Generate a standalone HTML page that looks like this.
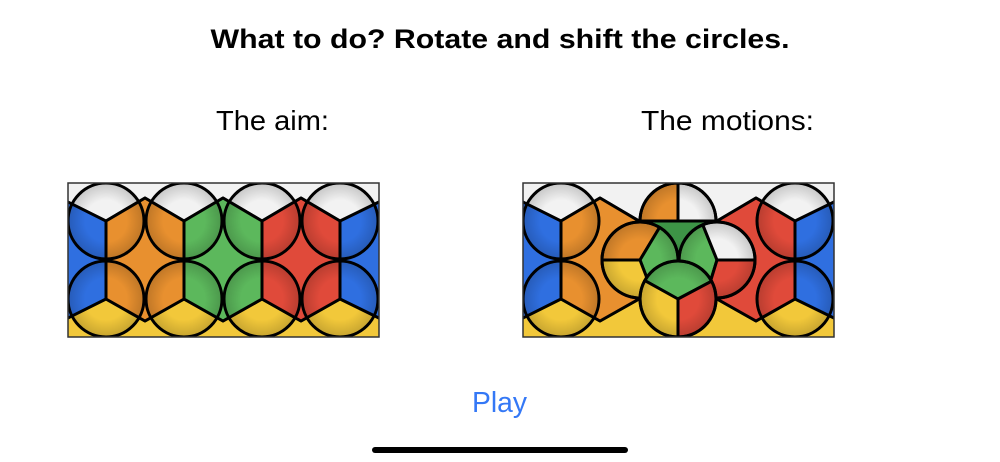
<!DOCTYPE html>
<html><head><meta charset="utf-8"><style>
html,body{margin:0;padding:0;background:#fff;width:1000px;height:462px;overflow:hidden}
svg{display:block}
</style></head><body>
<svg id="s" width="1000" height="462" viewBox="0 0 1000 462" xmlns="http://www.w3.org/2000/svg">
<defs>
<radialGradient id="sh" cx="50%" cy="50%" r="50%">
<stop offset="0.55" stop-color="#000" stop-opacity="0"/>
<stop offset="1" stop-color="#000" stop-opacity="0.18"/>
</radialGradient>
<clipPath id="c1"><rect x="68" y="183" width="311" height="154"/></clipPath>
<clipPath id="c2"><rect x="523" y="183" width="311" height="154"/></clipPath>
</defs>
<text x="500" y="48" text-anchor="middle" font-family="Liberation Sans, sans-serif" font-weight="bold" font-size="27" textLength="579" lengthAdjust="spacingAndGlyphs">What to do? Rotate and shift the circles.</text>
<text x="216" y="130" font-family="Liberation Sans, sans-serif" font-size="28" textLength="113" lengthAdjust="spacingAndGlyphs">The aim:</text>
<text x="641" y="130" font-family="Liberation Sans, sans-serif" font-size="28" textLength="173" lengthAdjust="spacingAndGlyphs">The motions:</text>
<text x="472" y="412" font-family="Liberation Sans, sans-serif" font-size="29" fill="#3478f6" textLength="55" lengthAdjust="spacingAndGlyphs">Play</text>
<rect x="372" y="447" width="256" height="6" rx="3" fill="#000"/>
<g id="g1" clip-path="url(#c1)"></g>
<g id="g2" clip-path="url(#c2)"></g>
<rect x="68" y="183" width="311" height="154" fill="none" stroke="#333" stroke-width="1.5"/>
<rect x="523" y="183" width="311" height="154" fill="none" stroke="#333" stroke-width="1.5"/>
</svg>
<script>
var C={b:"#2f6fe0",o:"#e8902f",g:"#5cb85c",r:"#e04a3a",y:"#f2c83a",w:"#f2f2f2",dg:"#3d9446"};
function poly(pts,fill,ox){return '<polygon points="'+pts.map(function(p){return (p[0]+ox)+','+p[1]}).join(' ')+'" fill="'+fill+'" stroke="#000" stroke-width="3" stroke-linejoin="round"/>';}
function hex(cx,fill,ox){return poly([[cx-39,221],[cx,198],[cx+39,221],[cx+39,299],[cx,321],[cx-39,299]],fill,ox);}
function base(ox,mid){
 var s='<rect x="'+(68+ox)+'" y="183" width="311" height="154" fill="'+C.b+'"/>';
 s+=poly([[60,175],[387,175],[387,198],[340,221],[301,198],[262,221],[223,198],[184,221],[145,198],[106,221],[60,198]],C.w,ox);
 s+=poly([[60,322],[106,299],[145,321],[184,299],[223,321],[262,299],[301,321],[340,299],[387,322],[387,345],[60,345]],C.y,ox);
 s+=hex(145,C.o,ox)+hex(223,mid,ox)+hex(301,C.r,ox);
 return s;
}
function circ(x,y){return '<circle cx="'+x+'" cy="'+y+'" r="38" fill="url(#sh)" stroke="#000" stroke-width="3"/>';}
function pt(x,y,a){a=a*Math.PI/180;return [x+38*Math.cos(a),y+38*Math.sin(a)];}
function sectors(x,y,list){
 var s='';
 list.forEach(function(l){var a=l[0],b=l[1];var p1=pt(x,y,a),p2=pt(x,y,b);var large=(b-a)>180?1:0;
  s+='<path d="M'+x+','+y+' L'+p1[0].toFixed(1)+','+p1[1].toFixed(1)+' A38,38 0 '+large+' 1 '+p2[0].toFixed(1)+','+p2[1].toFixed(1)+' Z" fill="'+l[2]+'" stroke="#000" stroke-width="3" stroke-linejoin="round"/>';});
 s+=circ(x,y);return s;
}
var out=base(0,C.g);
[106,184,262,340].forEach(function(x){out+=circ(x,221)+circ(x,299);});
document.getElementById("g1").innerHTML=out;
var o=455;
out=base(o,C.dg);
[106,340].forEach(function(x){out+=circ(x+o,221)+circ(x+o,299);});
out+=sectors(678,221,[[180,270,C.o],[270,360,C.w],[0,180,C.dg]]);
out+=sectors(640,260,[[180,301,C.o],[301,429,C.g],[69,180,C.y]]);
out+=sectors(717,260,[[107,248,C.g],[248,360,C.w],[0,107,C.r]]);
out+=sectors(678,299,[[209,332,C.g],[-28,90,C.r],[90,209,C.y]]);
document.getElementById("g2").innerHTML=out;
</script>
</body></html>
